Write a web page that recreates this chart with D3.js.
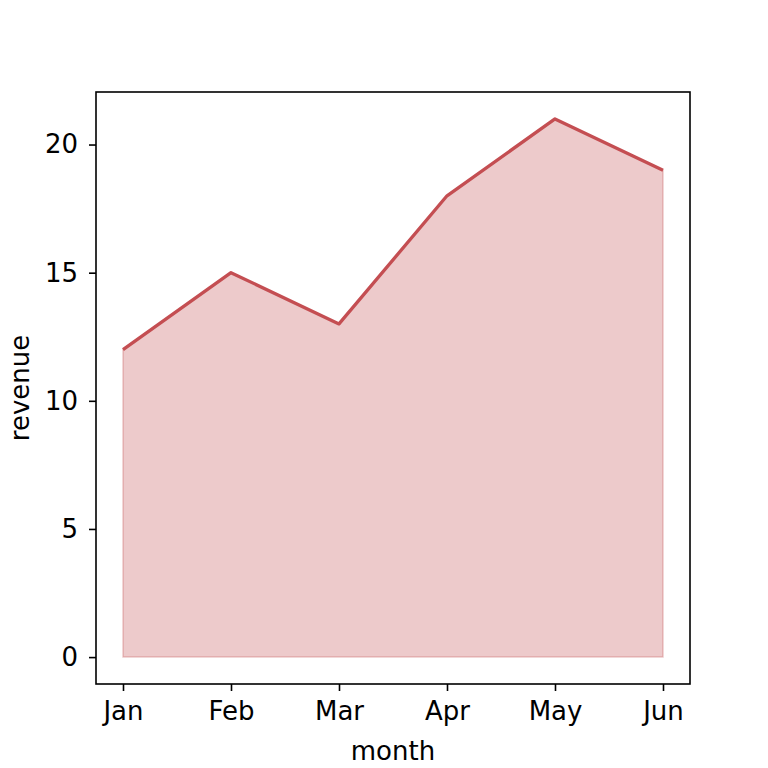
<!DOCTYPE html>
<html>
<head>
<meta charset="utf-8">
<script src="https://cdn.jsdelivr.net/npm/d3@7"></script>
<style>
body { margin: 0; background: #fff; }
text { font-family: "DejaVu Sans", sans-serif; fill: #000; }
</style>
</head>
<body>
<svg id="chart" width="768" height="768"></svg>
<script>
var months = ["Jan", "Feb", "Mar", "Apr", "May", "Jun"];
var revenue = [12, 15, 13, 18, 21, 19];
var yTicks = [0, 5, 10, 15, 20];

var svg = d3.select("#chart");
var mLeft = 96, mRight = 690, mTop = 92, mBottom = 684;
var col = "#c44e52";

var x = d3.scaleLinear().domain([-0.25, 5.25]).range([mLeft, mRight]);
var y = d3.scaleLinear().domain([-1.05, 22.05]).range([mBottom, mTop]);

var data = months.map(function (m, i) { return { i: i, v: revenue[i] }; });

var area = d3.area()
    .x(function (d) { return x(d.i); })
    .y0(y(0))
    .y1(function (d) { return y(d.v); });

var line = d3.line()
    .x(function (d) { return x(d.i); })
    .y(function (d) { return y(d.v); });

svg.append("path").attr("d", area(data))
    .attr("fill", col).attr("fill-opacity", 0.3)
    .attr("stroke", col).attr("stroke-opacity", 0.3).attr("stroke-width", 1.5);

svg.append("path").attr("d", line(data))
    .attr("fill", "none").attr("stroke", col).attr("stroke-width", 3.3)
    .attr("stroke-linejoin", "round");

// axes
var xAxis = d3.axisBottom(x).tickValues(d3.range(months.length))
    .tickFormat(function (d) { return months[d]; }).tickSizeOuter(0).tickSize(7).tickPadding(11);
var gx = svg.append("g").attr("transform", "translate(0," + mBottom + ")").call(xAxis);

var yAxis = d3.axisLeft(y).tickValues(yTicks).tickSizeOuter(0).tickSize(7).tickPadding(11);
var gy = svg.append("g").attr("transform", "translate(" + mLeft + ",0)").call(yAxis);

[gx, gy].forEach(function (g) {
  g.attr("font-size", 26).attr("font-family", "DejaVu Sans");
  g.select(".domain").remove();
  g.selectAll(".tick line").attr("stroke", "#000").attr("stroke-width", 1.6);
});

svg.append("rect").attr("x", mLeft).attr("y", mTop)
    .attr("width", mRight - mLeft).attr("height", mBottom - mTop)
    .attr("fill", "none").attr("stroke", "#000").attr("stroke-width", 1.6);

svg.append("text").attr("x", (mLeft + mRight) / 2).attr("y", 760)
    .attr("text-anchor", "middle").attr("font-size", 26).text("month");

svg.append("text").attr("transform", "translate(29," + ((mTop + mBottom) / 2) + ") rotate(-90)")
    .attr("text-anchor", "middle").attr("font-size", 26).text("revenue");
</script>
</body>
</html>
